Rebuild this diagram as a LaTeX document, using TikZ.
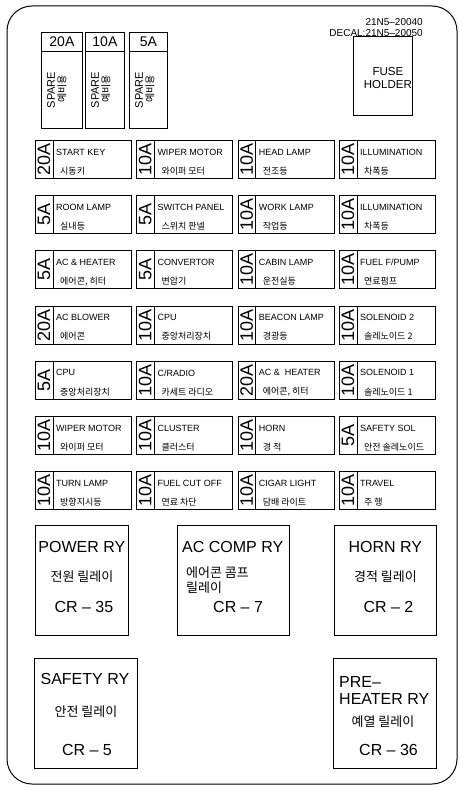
\documentclass[tikz,border=0pt]{standalone}
\usepackage{fontspec}
\setmainfont{Liberation Sans}
\newfontfamily\kor{Noto Sans CJK KR}
\usetikzlibrary{positioning}

\begin{document}
\begin{tikzpicture}[x=1pt, y=-1pt]
	\tikzset{box/.style={draw, line width=0.8pt, inner sep=0pt},
		fuse/.style={box, anchor=north west, minimum width=96pt, minimum height=38pt},
		amp/.style={rotate=90, inner sep=0pt, font=\fontsize{18}{18}\selectfont},
		eng/.style={anchor=west, inner sep=0pt, font=\fontsize{9}{9}\selectfont},
		kr/.style={anchor=west, inner sep=0pt, font=\kor\fontsize{9}{9}\selectfont},
		relay/.style={box, anchor=north west, minimum height=110pt},
		rytext/.style={inner sep=0pt, font=\fontsize{16}{16}\selectfont},
		rykr/.style={inner sep=0pt, font=\kor\fontsize{13}{15}\selectfont}}

	\useasboundingbox (0,0) rectangle (459,792);
	\draw[line width=1pt, rounded corners=25pt] (7,6) rectangle (457,784);

	% spare fuses
	\foreach \i/\x/\w/\amp in {1/41/41/20A, 2/85/39/10A, 3/129/38/5A} {
		\node[box, anchor=north west, minimum width=\w pt, minimum height=96pt] (spare\i) at (\x,32) {};
		\draw[line width=0.8pt] ([yshift=-19pt]spare\i.north west) -- ([yshift=-19pt]spare\i.north east);
		\node[inner sep=0pt, font=\fontsize{14}{14}\selectfont] (spareamp\i) at ([yshift=-10pt]spare\i.north) {\amp};
		\node[rotate=90, inner sep=0pt, font=\fontsize{11}{11}\selectfont] (sparetxt\i) at ([xshift=10pt,yshift=-58pt]spare\i.north west) {SPARE};
		\node[rotate=90, inner sep=0pt, font=\kor\fontsize{10}{10}\selectfont] (sparekr\i) at ([xshift=21pt,yshift=-57pt]spare\i.north west) {예비용};
	}

	\node[anchor=east, inner sep=0pt, font=\fontsize{10}{10}\selectfont] (partno) at (423,22) {21N5--20040};
	\node[anchor=east, inner sep=0pt, font=\fontsize{10}{10}\selectfont] (decal) at (423,33) {DECAL:21N5--20050};

	\node[box, anchor=north west, minimum width=59pt, minimum height=79pt] (holder) at (353,36) {};
	\node[inner sep=0pt, align=center, font=\fontsize{11.5}{12.5}\selectfont] (holdertext) at ([xshift=5pt,yshift=-2pt]holder.center) {FUSE\\HOLDER};

	% fuse block
	\foreach \c/\r/\amp/\en/\kr in {
		0/0/20A/START KEY/시동키, 1/0/10A/WIPER MOTOR/와이퍼 모터, 2/0/10A/HEAD LAMP/전조등, 3/0/10A/ILLUMINATION/차폭등,
		0/1/5A/ROOM LAMP/실내등, 1/1/5A/SWITCH PANEL/스위치 판넬, 2/1/10A/WORK LAMP/작업등, 3/1/10A/ILLUMINATION/차폭등,
		0/2/5A/AC \& HEATER/{에어콘, 히터}, 1/2/5A/CONVERTOR/변압기, 2/2/10A/CABIN LAMP/운전실등, 3/2/10A/FUEL F\slash PUMP/연료펌프,
		0/3/20A/AC BLOWER/에어콘, 1/3/10A/CPU/중앙처리장치, 2/3/10A/BEACON LAMP/경광등, 3/3/10A/SOLENOID 2/솔레노이드 2,
		0/4/5A/CPU/중앙처리장치, 1/4/10A/C\slash RADIO/카세트 라디오, 2/4/20A/AC \& \ HEATER/{에어콘, 히터}, 3/4/10A/SOLENOID 1/솔레노이드 1,
		0/5/10A/WIPER MOTOR/와이퍼 모터, 1/5/10A/CLUSTER/클러스터, 2/5/10A/HORN/경 적, 3/5/5A/SAFETY SOL/안전 솔레노이드,
		0/6/10A/TURN LAMP/방향지시등, 1/6/10A/FUEL CUT OFF/연료 차단, 2/6/10A/CIGAR LIGHT/담배 라이트, 3/6/10A/TRAVEL/주 행} {
		\node[fuse] (f\c\r) at ({35+101.3*\c},{140+55.2*\r}) {};
		\draw[line width=0.8pt] ([xshift=18pt]f\c\r.north west) -- ([xshift=18pt]f\c\r.south west);
		\node[amp] (a\c\r) at ([xshift=9pt]f\c\r.west) {\amp};
		\node[eng] (e\c\r) at ([xshift=21pt,yshift=-12pt]f\c\r.north west) {\en};
		\node[kr] (k\c\r) at ([xshift=25pt,yshift=-31pt]f\c\r.north west) {\kr};
	}

	% relays
	\node[relay, minimum width=93pt] (power) at (35,525) {};
	\node[rytext] (powername) at ([yshift=-22pt]power.north) {POWER RY};
	\node[rykr] (powerkr) at ([yshift=-52pt]power.north) {전원 릴레이};
	\node[rytext] (powercr) at ([xshift=2pt,yshift=-82pt]power.north) {CR -- 35};

	\node[relay, minimum width=112pt] (accomp) at (177,525) {};
	\node[rytext, anchor=west] (accompname) at ([xshift=5pt,yshift=-22pt]accomp.north west) {AC COMP RY};
	\node[rykr, anchor=north west, align=left] (accompkr) at ([xshift=9pt,yshift=-42pt]accomp.north west) {에어콘 콤프\\릴레이};
	\node[rytext, anchor=west] (accompcr) at ([xshift=36pt,yshift=-82pt]accomp.north west) {CR -- 7};

	\node[relay, minimum width=102pt] (horn) at (334,525) {};
	\node[rytext] (hornname) at ([yshift=-22pt]horn.north) {HORN RY};
	\node[rykr] (hornkr) at ([yshift=-52pt]horn.north) {경적 릴레이};
	\node[rytext] (horncr) at ([xshift=3pt,yshift=-82pt]horn.north) {CR -- 2};

	\node[relay, minimum width=103pt] (safety) at (34,658) {};
	\node[rytext] (safetyname) at ([xshift=-1pt,yshift=-21pt]safety.north) {SAFETY RY};
	\node[rykr] (safetykr) at ([yshift=-54pt]safety.north) {안전 릴레이};
	\node[rytext] (safetycr) at ([xshift=1pt,yshift=-92pt]safety.north) {CR -- 5};

	\node[relay, minimum width=103pt] (preheat) at (333,658) {};
	\node[rytext, anchor=west] (preheatname) at ([xshift=6pt,yshift=-24pt]preheat.north west) {PRE--};
	\node[rytext, anchor=west] (preheatname2) at ([xshift=6pt,yshift=-41pt]preheat.north west) {HEATER RY};
	\node[rykr] (preheatkr) at ([xshift=-2pt,yshift=-64pt]preheat.north) {예열 릴레이};
	\node[rytext, anchor=west] (preheatcr) at ([xshift=26pt,yshift=-92pt]preheat.north west) {CR -- 36};
\end{tikzpicture}
\end{document}
